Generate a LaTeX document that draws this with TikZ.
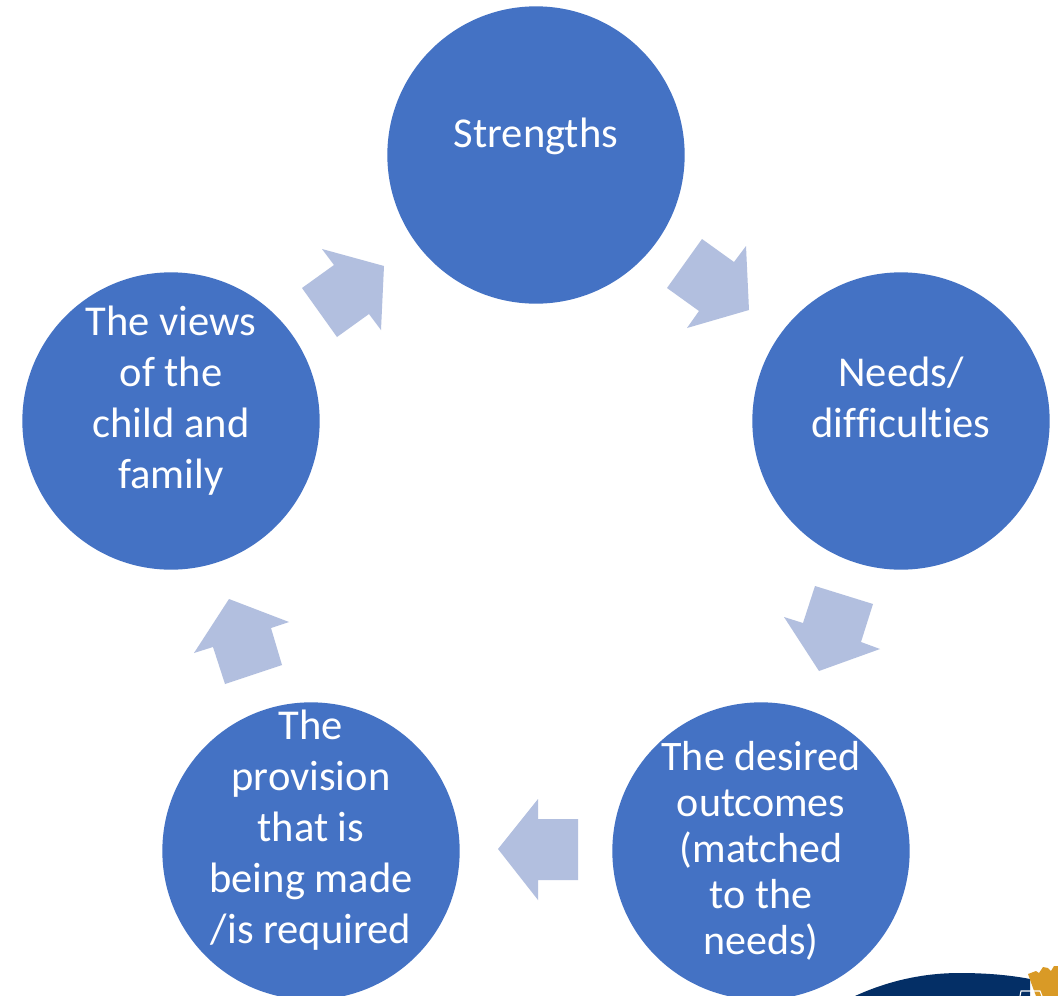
\documentclass[tikz,border=0pt]{standalone}
\usepackage{fontspec}
\setmainfont{Carlito}[Ligatures=NoCommon]
\definecolor{disc}{HTML}{4472C4}
\definecolor{arrowfill}{HTML}{B2BFDF}
\definecolor{navy}{HTML}{042F66}
\definecolor{crown}{HTML}{D99A26}
\tikzset{
  disc/.style={circle,fill=disc,draw=none,minimum size=223pt,inner sep=0pt},
  big/.style={text=white,align=center,font=\fontsize{31.9}{38.2}\selectfont,inner sep=0pt},
  small/.style={text=white,align=center,font=\fontsize{31.5}{34.5}\selectfont,inner sep=0pt},
  arrowshape/.style={fill=arrowfill,draw=none}
}
\begin{document}
\begin{tikzpicture}[x=0.75pt,y=-0.75pt]
\useasboundingbox (0,0) rectangle (1058,996);
\fill[white] (0,0) rectangle (1058,996);
% logo fragment
\begin{scope}
\clip (0,0) rectangle (1058,996);
\fill[navy] (855,996) .. controls (890,980) and (925,973) .. (960,973) .. controls (985,973) and (1010,975) .. (1030,979) -- (1030,996) -- cycle;
\fill[crown] (1028,974) -- (1036,971) -- (1039,973) -- (1043,967) -- (1048,968) -- (1051,971) -- (1054,966) -- (1058,966) -- (1058,996) -- (1036,996) -- (1033,988) -- cycle;
\draw[white,line width=0.8pt] (1020,996) -- (1021,991) -- (1040,991) -- (1042,996);
\end{scope}
% discs
\node[disc] (top) at (536,155) {};
\node[disc] (right) at (901,421) {};
\node[disc] (br) at (761,851) {};
\node[disc] (bl) at (311,851) {};
\node[disc] (left) at (171,421) {};
% labels
\node[big] at ([yshift=14.25pt]top) {Strengths};
\node[big] at ([yshift=18pt]right) {Needs/\\difficulties};
\node[big] at ([yshift=15pt]left) {The views\\of the\\child and\\family};
\node[big] at ([yshift=15.75pt]bl) {The\\provision\\that is\\being made\\/is required};
\node[small] at ([yshift=0pt]br) {The desired\\outcomes\\(matched\\to the\\needs)};
% arrows
\fill[arrowshape] (702,239)--(734,262)--(746,246)--(749,310)--(687,328)--(699,311)--(667,288)--cycle;
\fill[arrowshape] (815,586)--(873,604)--(861,642)--(880,649)--(819,671)--(784,617)--(803,623)--cycle;
\fill[arrowshape] (538,799)--(538,819)--(578,819)--(578,880)--(538,880)--(538,900)--(498,849)--cycle;
\fill[arrowshape] (229,599)--(289,622)--(271,628)--(282,665)--(225,684)--(213,647)--(194,653)--cycle;
\fill[arrowshape] (322,249)--(384,266)--(381,330)--(369,314)--(337,337)--(302,288)--(334,265)--cycle;
\end{tikzpicture}
\end{document}
